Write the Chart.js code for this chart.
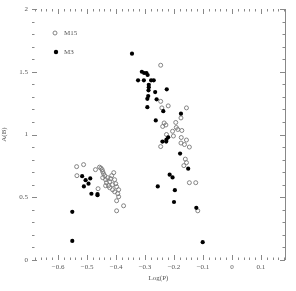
<!DOCTYPE html>
<html>
<head>
<meta charset="utf-8">
<script src="https://cdn.jsdelivr.net/npm/chart.js@4"></script>
<style>
html,body{margin:0;padding:0;background:#fff;}
canvas{display:block;}
</style>
</head>
<body>
<canvas id="c" width="296" height="291"></canvas>
<script>
// ---- data ----
const seriesNames = ["M15", "M3"];

const m15LogP = [
  -0.536,-0.512,-0.535,-0.471,-0.462,-0.457,-0.452,-0.448,-0.446,-0.443,
  -0.439,-0.446,-0.436,-0.429,-0.433,-0.426,-0.422,-0.415,-0.408,-0.405,
  -0.401,-0.398,-0.412,-0.405,-0.394,-0.391,-0.398,-0.374,-0.398,-0.422,
  -0.436,-0.419,-0.412,-0.391,
  -0.246,-0.246,-0.220,-0.242,-0.157,-0.176,-0.194,-0.234,-0.228,-0.239,
  -0.192,-0.205,-0.173,-0.187,-0.226,-0.202,-0.175,-0.157,-0.176,-0.164,
  -0.147,-0.246,-0.161,-0.157,-0.166,-0.147,-0.125,-0.118
];
const m15AB = [
  0.744,0.760,0.672,0.720,0.568,0.740,0.732,0.720,0.704,0.688,
  0.672,0.656,0.640,0.656,0.616,0.592,0.576,0.672,0.696,0.640,
  0.608,0.584,0.560,0.544,0.528,0.504,0.472,0.432,0.392,0.624,
  0.592,0.648,0.600,0.560,
  1.552,1.264,1.228,1.212,1.212,1.132,1.096,1.092,1.076,1.064,
  1.056,1.026,1.032,1.040,1.000,0.988,0.976,0.956,0.932,0.920,
  0.900,0.904,0.804,0.776,0.752,0.616,0.616,0.392
];

const m3LogP = [
  -0.517,-0.489,-0.505,-0.495,-0.511,-0.485,-0.464,-0.464,-0.551,-0.551,
  -0.345,-0.311,-0.303,-0.295,-0.291,-0.324,-0.304,-0.279,-0.270,-0.287,
  -0.287,-0.288,-0.265,-0.225,-0.289,-0.292,-0.260,-0.292,-0.237,-0.176,
  -0.263,-0.220,-0.226,-0.240,-0.227,-0.179,-0.151,-0.215,-0.205,-0.256,
  -0.197,-0.200,-0.123,-0.101
];
const m3AB = [
  0.668,0.650,0.636,0.608,0.586,0.528,0.526,0.516,0.384,0.152,
  1.644,1.500,1.490,1.490,1.474,1.432,1.432,1.432,1.432,1.396,
  1.376,1.352,1.338,1.360,1.306,1.284,1.280,1.218,1.186,1.166,
  1.112,0.978,0.960,0.944,0.944,0.848,0.728,0.680,0.658,0.586,
  0.556,0.462,0.416,0.142
];

const xMin = -0.69, xMax = 0.183, yMin = 0, yMax = 2;
const xMajorStep = 0.1, xMinorStep = 0.02;
const yMajorStep = 0.5, yMinorStep = 0.1;
const xTitle = "Log(P)", yTitle = "A(B)";

// ---- build ----
const toPts = (xs, ys) => xs.map((x, i) => ({x: x, y: ys[i]}));
const FONT = "'Liberation Serif','DejaVu Serif',serif";
const fmt = v => {
  const r = Math.round(v * 10) / 10;
  if (Math.abs(r) < 1e-9) return "0";
  const s = String(Math.abs(r));
  return (r < 0 ? "\u2212" : "") + s;
};

const framePlugin = {
  id: 'frame',
  afterDraw(chart) {
    const ctx = chart.ctx, a = chart.chartArea;
    const xs = chart.scales.x, ys = chart.scales.y;
    ctx.save();
    ctx.strokeStyle = '#888';
    ctx.lineWidth = 1;
    // right border
    ctx.beginPath();
    ctx.moveTo(a.right + 0.5, a.top);
    ctx.lineTo(a.right + 0.5, a.bottom);
    ctx.stroke();
    // x ticks
    ctx.beginPath();
    for (let k = Math.ceil(xMin / xMinorStep); k * xMinorStep <= xMax + 1e-9; k++) {
      const v = k * xMinorStep;
      const major = Math.abs(v / xMajorStep - Math.round(v / xMajorStep)) < 1e-6;
      const len = major ? 5 : 2.5;
      const px = Math.round(xs.getPixelForValue(v)) + 0.5;
      ctx.moveTo(px, a.bottom); ctx.lineTo(px, a.bottom - len);
      ctx.moveTo(px, a.top); ctx.lineTo(px, a.top + len);
    }
    // y ticks
    for (let k = Math.ceil(yMin / yMinorStep); k * yMinorStep <= yMax + 1e-9; k++) {
      const v = k * yMinorStep;
      const major = Math.abs(v / yMajorStep - Math.round(v / yMajorStep)) < 1e-6;
      const len = major ? 5 : 2.5;
      const py = Math.round(ys.getPixelForValue(v)) + 0.5;
      ctx.moveTo(a.left, py); ctx.lineTo(a.left + len, py);
      ctx.moveTo(a.right, py); ctx.lineTo(a.right - len, py);
    }
    ctx.stroke();
    // legend
    const lx = a.left + 23, ly1 = a.top + 24, ly2 = a.top + 43;
    ctx.beginPath();
    ctx.arc(lx, ly1, 2, 0, Math.PI * 2);
    ctx.strokeStyle = '#777'; ctx.lineWidth = 0.9; ctx.stroke();
    ctx.beginPath();
    ctx.arc(lx + 1, ly2, 2.2, 0, Math.PI * 2);
    ctx.fillStyle = '#000'; ctx.fill();
    ctx.fillStyle = '#555';
    ctx.font = "7px " + FONT;
    ctx.textBaseline = 'middle';
    ctx.textAlign = 'left';
    ctx.fillText(seriesNames[0], lx + 9, ly1);
    ctx.fillText(seriesNames[1], lx + 9, ly2);
    ctx.restore();
  }
};

new Chart(document.getElementById('c'), {
  type: 'scatter',
  data: {
    datasets: [
      {
        label: seriesNames[1],
        data: toPts(m3LogP, m3AB),
        pointStyle: 'circle',
        pointRadius: 2.1,
        backgroundColor: '#000',
        borderColor: '#000',
        borderWidth: 0,
        order: 0
      },
      {
        label: seriesNames[0],
        data: toPts(m15LogP, m15AB),
        pointStyle: 'circle',
        pointRadius: 2,
        backgroundColor: 'rgba(255,255,255,0)',
        borderColor: '#777',
        borderWidth: 0.9,
        order: 1
      }
    ]
  },
  plugins: [framePlugin],
  options: {
    responsive: false,
    animation: false,
    events: [],
    layout: { padding: { top: 9, right: 11, left: 0, bottom: 0 } },
    plugins: { legend: { display: false }, tooltip: { enabled: false } },
    scales: {
      x: {
        type: 'linear',
        min: xMin, max: xMax,
        grid: { display: false, drawTicks: false },
        border: { display: false },
        ticks: {
          stepSize: xMajorStep,
          includeBounds: false,
          padding: 3,
          maxRotation: 0,
          autoSkip: false,
          color: '#555',
          font: { family: FONT, size: 7 },
          callback: v => fmt(v)
        },
        title: {
          display: true, text: xTitle, color: '#555',
          font: { family: FONT, size: 7 },
          padding: { top: 0, bottom: 9 }
        },
        afterFit: s => { s.height = 31; }
      },
      y: {
        type: 'linear',
        min: yMin, max: yMax,
        grid: { display: false, drawTicks: false },
        border: { display: false },
        ticks: {
          stepSize: yMajorStep,
          includeBounds: false,
          padding: 4,
          autoSkip: false,
          color: '#555',
          font: { family: FONT, size: 7 },
          callback: v => {
            const r = Math.round(v * 10) / 10;
            return r === 0 ? "0" : String(r);
          }
        },
        title: {
          display: true, text: yTitle, color: '#555',
          font: { family: FONT, size: 7 },
          padding: { top: 0, bottom: 0 }
        },
        afterFit: s => { s.width = 32; }
      }
    }
  }
});
</script>
</body>
</html>
